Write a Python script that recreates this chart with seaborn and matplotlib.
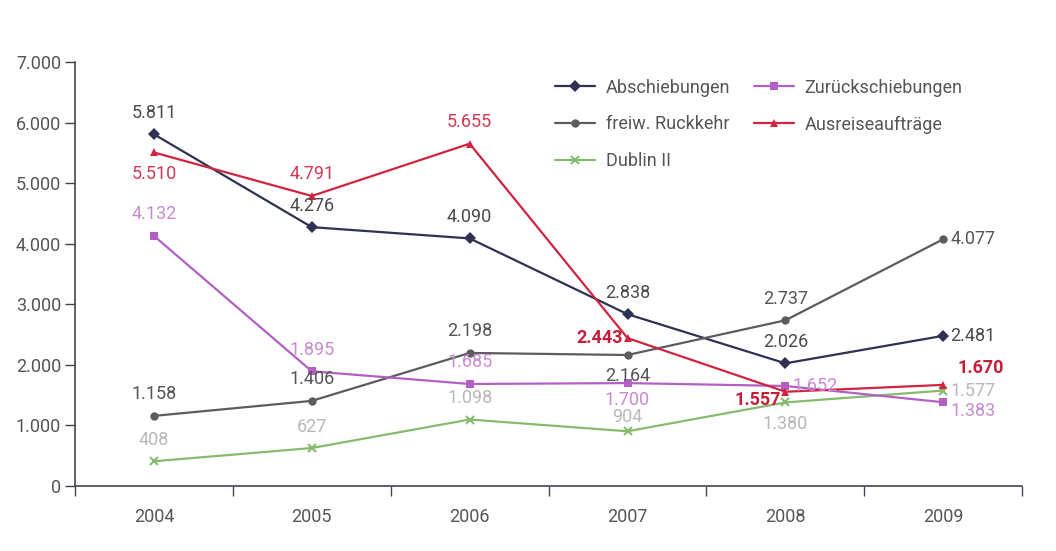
import matplotlib
matplotlib.use("Agg")
import matplotlib.pyplot as plt
import seaborn as sns
import pandas as pd

years = ["2004", "2005", "2006", "2007", "2008", "2009"]
abschiebungen = [5811, 4276, 4090, 2838, 2026, 2481]
zurueckschiebungen = [4132, 1895, 1685, 1700, 1652, 1383]
freiw_rueckkehr = [1158, 1406, 2198, 2164, 2737, 4077]
ausreiseauftraege = [5510, 4791, 5655, 2443, 1557, 1670]
dublin_ii = [408, 627, 1098, 904, 1380, 1577]
y_ticks = [0, 1000, 2000, 3000, 4000, 5000, 6000, 7000]

sns.set_theme(style="white")
plt.rcParams["font.family"] = ["Roboto", "DejaVu Sans"]

FS = 13

def fmt(v):
    return f"{v:,}".replace(",", ".")

# name, values, line colour, marker, marker size, label colour, label placements
series = [
    ("Abschiebungen", abschiebungen, "#2f3152", "D", 7, "#4a4a4e",
     ["a", "a", "a", "a", "a", "r"]),
    ("freiw. Ruckkehr", freiw_rueckkehr, "#5b5b60", "o", 9, "#555558",
     ["a", "a", "a", "b", "a", "r"]),
    ("Dublin II", dublin_ii, "#86bb6e", "x", 9, "#b8b8b8",
     ["a", "a", "a", "as", "b", "r"]),
    ("Zurückschiebungen", zurueckschiebungen, "#b35fc4", "s", 8, "#c88bd0",
     ["a", "a", "a", "bs", "r", "rb"]),
    ("Ausreiseaufträge", ausreiseauftraege, "#d0243f", "^", 9, "#d03a55",
     ["b", "a", "a", "l", "lb", "ra"]),
]

offsets = {
    "a": ((0, 9), "center", "bottom"),
    "as": ((0, 4), "center", "bottom"),
    "b": ((0, -9), "center", "top"),
    "bs": ((0, -6), "center", "top"),
    "r": ((5, 0), "left", "center"),
    "rb": ((5, -6), "left", "center"),
    "ra": ((10, 12), "left", "center"),
    "l": ((-3, 0), "right", "center"),
    "lb": ((-3, -6), "right", "center"),
}

fig = plt.figure(figsize=(10.56, 5.51), dpi=100)
ax = fig.add_axes([0.071, 0.118, 0.897, 0.769])

x = list(range(len(years)))
for name, vals, col, mk, ms, lcol, places in series:
    df = pd.DataFrame({"x": x, "y": vals})
    mew = 1.5 if mk == "x" else 0
    sns.lineplot(data=df, x="x", y="y", ax=ax, color=col, marker=mk,
                 markersize=ms, markeredgewidth=mew, markeredgecolor=col,
                 linewidth=1.6, label=name)
    for xi, v, p in zip(x, vals, places):
        c, weight = lcol, "normal"
        if name == "Ausreiseaufträge" and p in ("l", "lb", "ra"):
            c, weight = "#c41f3a", "bold"
        off, ha, va = offsets[p]
        ax.annotate(fmt(v), (xi, v), xytext=off, textcoords="offset points",
                    ha=ha, va=va, color=c, fontsize=FS, fontweight=weight)

ax.set_xlim(-0.5, len(years) - 0.5)
ax.set_ylim(0, 7000)
ax.set_yticks(y_ticks)
ax.set_yticklabels([fmt(t) for t in y_ticks])
ax.set_xticks(x)
ax.set_xticklabels(years)
ax.set_xticks([i - 0.5 for i in range(len(years) + 1)], minor=True)
ax.tick_params(axis="x", which="major", length=0, pad=16, labelsize=FS, labelcolor="#555555")
ax.tick_params(axis="x", which="minor", length=7, width=1, color="#444455", direction="out", bottom=True)
ax.tick_params(axis="y", which="major", length=7, width=1, color="#444444", direction="out",
               left=True, labelsize=FS, labelcolor="#555555", pad=3)
ax.set_xlabel("")
ax.set_ylabel("")

for s in ("top", "right"):
    ax.spines[s].set_visible(False)
for s in ("left", "bottom"):
    ax.spines[s].set_color("#444455")
    ax.spines[s].set_linewidth(1.2)

handles, labels = ax.get_legend_handles_labels()
for h in handles:
    h.set_markersize(6)
ax.legend(handles, labels, ncol=2, loc="upper left", bbox_to_anchor=(0.49, 1.0),
          frameon=False, fontsize=FS, labelcolor="#555555", handlelength=2.2,
          columnspacing=1.3, labelspacing=1.05, handletextpad=0.6)

fig.savefig("out.png", dpi=100, facecolor="white")
